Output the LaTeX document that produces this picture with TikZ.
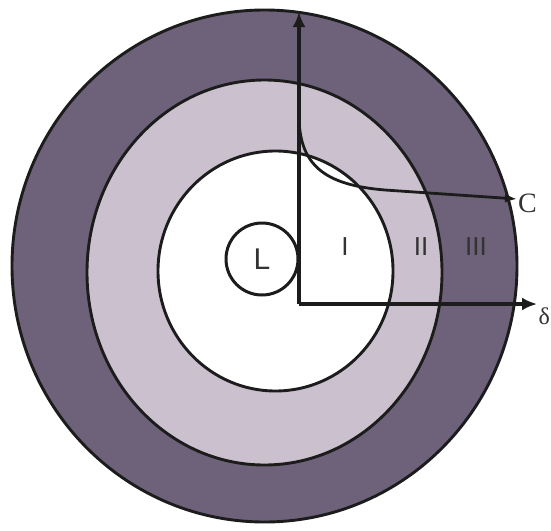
\documentclass[tikz,border=0pt]{standalone}
\usepackage{fontspec}
\setmainfont{Liberation Serif}
\newfontfamily\labelsans{Liberation Sans}
\usetikzlibrary{arrows.meta}
\definecolor{ringdark}{HTML}{6D6279}
\definecolor{ringlight}{HTML}{CBC0CE}
\definecolor{inkline}{HTML}{1C1C1C}
\definecolor{numgray}{HTML}{333333}
\begin{document}
\begin{tikzpicture}[x=1pt,y=-1pt,
  ring/.style={draw=inkline, line width=2.9pt},
  axisline/.style={draw=inkline, line width=3.2pt, -{Latex[length=15pt,width=13pt]}},
  conccurve/.style={draw=inkline, line width=2.8pt, -{Latex[length=12pt,width=9pt]}},
  roman/.style={font=\labelsans\fontsize{26}{26}\selectfont, text=numgray, inner sep=0pt},
  seriflabel/.style={font=\fontsize{28}{28}\selectfont, text=numgray, inner sep=0pt}]
\useasboundingbox (0,0) rectangle (551,530);
\fill[white] (0,0) rectangle (551,530);
% rings
\filldraw[ring, fill=ringdark] (264.5,266) ellipse [x radius=252.5pt, y radius=256pt];
\filldraw[ring, fill=ringlight] (264.5,272.5) ellipse [x radius=177.5pt, y radius=192.5pt];
\filldraw[ring, fill=white] (275.5,271) ellipse [x radius=117.5pt, y radius=120pt];
% axes
\coordinate (O) at (299,304);
\coordinate (ytip) at (299,12);
\coordinate (xtip) at (537,304);
\coordinate (cstart) at (299,115);
\coordinate (ctip) at (517,199);
\draw[axisline] (O) -- (ytip);
\draw[axisline] (O) -- (xtip);
% concentration curve
\draw[conccurve] (cstart) .. controls (299,165) and (324,185) .. (385,190) -- (ctip);
% small circle L
\node[circle, draw=inkline, line width=3pt, fill=white, minimum size=72pt, inner sep=0pt,
      font=\labelsans\fontsize{30}{30}\selectfont, text=numgray] (L) at (262,259) {L};
% labels
\node[roman] (r1) at (345,247) {I};
\node[roman] (r2) at (421,247) {II};
\node[roman] (r3) at (476,247) {III};
\node[seriflabel, anchor=west] (Cn) at (518,203) {C};
\node[seriflabel, anchor=west, font=\fontsize{24}{24}\selectfont] (dn) at (538.5,316) {δ};
\end{tikzpicture}
\end{document}
